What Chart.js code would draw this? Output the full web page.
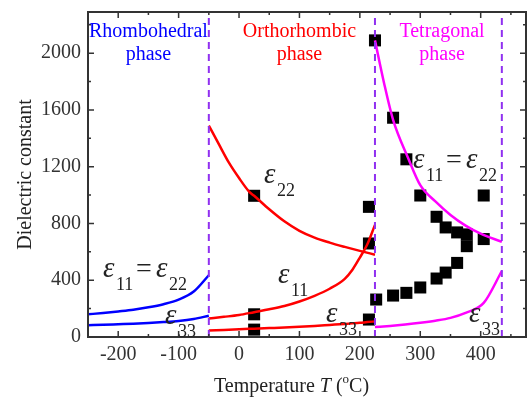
<!DOCTYPE html>
<html>
<head>
<meta charset="utf-8">
<script src="https://cdn.jsdelivr.net/npm/chart.js@4"></script>
<style>
  html, body { margin: 0; padding: 0; background: #fff; }
  canvas { display: block; }
</style>
</head>
<body>
<canvas id="chart" width="531" height="398"></canvas>
<script>
// axis ranges
const xMin = -250, xMax = 475;
const yMin = 0, yMax = 2290;

// phase boundaries (°C)
const phaseBounds = [-50, 225, 435];

// rhombohedral phase, model curves
const rhomboT = [-250, -225, -200, -175, -150, -125, -100, -75, -50];
const rhomboE11 = [160, 169, 180, 192, 209, 231, 263, 320, 435];
const rhomboE33 = [83, 86, 90, 94, 99, 105, 113, 127, 150];

// orthorhombic phase, model curves
const orthoT22 = [-50, -33, -17, 0, 17, 25, 50, 75, 100, 125, 150, 175, 200, 225];
const orthoE22 = [1490, 1355, 1230, 1120, 1023, 995, 900, 815, 748, 700, 665, 635, 607, 580];
const orthoT = [-50, -25, 0, 25, 50, 75, 100, 125, 150, 175, 188, 200, 212, 225];
const orthoE11 = [130, 142, 155, 175, 195, 218, 250, 290, 340, 410, 476, 560, 650, 790];
const orthoE33 = [45, 50, 55, 59, 63, 67, 72, 78, 85, 92, 96, 100, 105, 110];

// tetragonal phase, model curves
const tetraT11 = [225, 240, 255, 280, 300, 325, 350, 375, 400, 435];
const tetraE11 = [2090, 1790, 1530, 1260, 1070, 955, 860, 785, 728, 670];
const tetraT33 = [225, 250, 275, 300, 325, 350, 375, 405, 435];
const tetraE33 = [70, 78, 88, 100, 115, 135, 170, 240, 465];

// measured points (black squares)
const measT = [25, 25, 25, 215, 215, 215,
               225, 255, 277, 300, 327, 342, 361, 377, 377, 405, 405,
               227, 255, 277, 300, 327, 342, 361];
const measV = [995, 160, 52, 917, 659, 123,
               2090, 1545, 1252, 997, 847, 772, 737, 723, 640, 997, 690,
               264, 292, 311, 349, 412, 454, 522];

const SERIF = '"Liberation Serif", "Times New Roman", serif';
const AXIS = '#333';
const DASH = '#9030f0';

const pts = (xs, ys) => xs.map((x, i) => ({ x: x, y: ys[i] }));

function curve(xs, ys, color) {
  return {
    data: pts(xs, ys), showLine: true, borderColor: color, borderWidth: 2.5,
    pointRadius: 0, cubicInterpolationMode: 'monotone', fill: false
  };
}

const boundarySets = phaseBounds.map(b => ({
  data: [{ x: b, y: yMin }, { x: b, y: yMax }], showLine: true,
  borderColor: DASH, borderWidth: 2, borderDash: [7, 5], pointRadius: 0
}));

function noPad(s) {
  s.paddingTop = 0; s.paddingBottom = 0;
  s.paddingLeft = 0; s.paddingRight = 0;
}

// inward ticks, frame, labels
const decor = {
  id: 'decor',
  afterDraw(chart) {
    const { ctx, chartArea: a, scales: { x, y } } = chart;
    ctx.save();
    ctx.strokeStyle = AXIS;
    ctx.lineWidth = 2;
    ctx.strokeRect(a.left, a.top, a.right - a.left, a.bottom - a.top);

    ctx.lineWidth = 1.5;
    ctx.beginPath();
    for (let v = -200; v < xMax; v += 50) {
      const px = x.getPixelForValue(v);
      const len = v % 100 === 0 ? 6 : 3;
      ctx.moveTo(px, a.bottom); ctx.lineTo(px, a.bottom - len);
      ctx.moveTo(px, a.top); ctx.lineTo(px, a.top + len);
    }
    for (let v = 200; v < yMax; v += 200) {
      const py = y.getPixelForValue(v);
      const len = v % 400 === 0 ? 6 : 3;
      ctx.moveTo(a.left, py); ctx.lineTo(a.left + len, py);
      ctx.moveTo(a.right, py); ctx.lineTo(a.right - len, py);
    }
    ctx.stroke();

    // phase names
    ctx.textAlign = 'center';
    ctx.textBaseline = 'alphabetic';
    ctx.font = '20px ' + SERIF;
    const phases = [
      ['Rhombohedral', 'phase', -150, '#0000ff'],
      ['Orthorhombic', 'phase', 100, '#ff0000'],
      ['Tetragonal', 'phase', 336, '#ff00ff']
    ];
    phases.forEach(p => {
      ctx.fillStyle = p[3];
      const cx = x.getPixelForValue(p[2]);
      ctx.fillText(p[0], cx, a.top + 25);
      ctx.fillText(p[1], cx, a.top + 48);
    });

    // epsilon labels
    ctx.textAlign = 'left';
    ctx.fillStyle = '#222';
    function eps(px, py, sub1, sub2) {
      ctx.font = 'italic 29px ' + SERIF;
      ctx.fillText('\u03b5', px, py);
      ctx.font = '18px ' + SERIF;
      ctx.fillText(sub1, px + 13, py + 13);
      if (sub2) {
        ctx.font = '28px ' + SERIF;
        ctx.fillText('=', px + 33, py);
        ctx.font = 'italic 29px ' + SERIF;
        ctx.fillText('\u03b5', px + 53, py);
        ctx.font = '18px ' + SERIF;
        ctx.fillText(sub2, px + 66, py + 13);
      }
    }
    eps(103, 277, '11', '22');
    eps(165, 324, '33');
    eps(264, 183, '22');
    eps(278, 283, '11');
    eps(326, 322, '33');
    eps(413, 168, '11', '22');
    eps(469, 322, '33');

    // axis titles
    ctx.fillStyle = '#222';
    ctx.font = '20px ' + SERIF;
    ctx.save();
    ctx.translate(31, (a.top + a.bottom) / 2);
    ctx.rotate(-Math.PI / 2);
    ctx.textAlign = 'center';
    ctx.fillText('Dielectric constant', 0, 0);
    ctx.restore();

    const parts = [
      ['Temperature ', '20px ', 0],
      ['T', 'italic 20px ', 0],
      [' (', '20px ', 0],
      ['o', '13px ', -9],
      ['C)', '20px ', 0]
    ];
    let tx = 214;
    const ty = 392;
    parts.forEach(p => {
      ctx.font = p[1] + SERIF;
      ctx.fillText(p[0], tx, ty + p[2]);
      tx += ctx.measureText(p[0]).width;
    });
    ctx.restore();
  }
};

new Chart(document.getElementById('chart'), {
  type: 'scatter',
  data: {
    datasets: [
      ...boundarySets,
      curve(rhomboT, rhomboE11, '#0000ff'),
      curve(rhomboT, rhomboE33, '#0000ff'),
      curve(orthoT22, orthoE22, '#ff0000'),
      curve(orthoT, orthoE11, '#ff0000'),
      curve(orthoT, orthoE33, '#ff0000'),
      curve(tetraT11, tetraE11, '#ff00ff'),
      curve(tetraT33, tetraE33, '#ff00ff'),
      {
        data: pts(measT, measV), showLine: false, pointStyle: 'rect',
        pointRadius: 8.5, backgroundColor: '#000', borderWidth: 0
      }
    ]
  },
  options: {
    responsive: false,
    animation: false,
    devicePixelRatio: 1,
    layout: { autoPadding: false, padding: { top: 12, right: 5, left: 0, bottom: 0 } },
    plugins: { legend: { display: false }, tooltip: { enabled: false } },
    scales: {
      x: {
        type: 'linear', min: xMin, max: xMax,
        grid: { display: false, drawTicks: false, tickLength: 0 },
        border: { display: false },
        ticks: {
          stepSize: 50, autoSkip: false, maxRotation: 0, padding: 6,
          color: AXIS, font: { family: SERIF, size: 20 },
          callback: v => (v % 100 === 0 ? String(v) : '')
        },
        afterFit: s => { s.height = 61; noPad(s); }
      },
      y: {
        type: 'linear', min: yMin, max: yMax,
        grid: { display: false, drawTicks: false, tickLength: 0 },
        border: { display: false },
        ticks: {
          stepSize: 200, autoSkip: false, padding: 7,
          color: AXIS, font: { family: SERIF, size: 20 },
          callback: v => (v % 400 === 0 ? String(v) : '')
        },
        afterFit: s => { s.width = 88; noPad(s); }
      }
    }
  },
  plugins: [decor]
});
</script>
</body>
</html>
